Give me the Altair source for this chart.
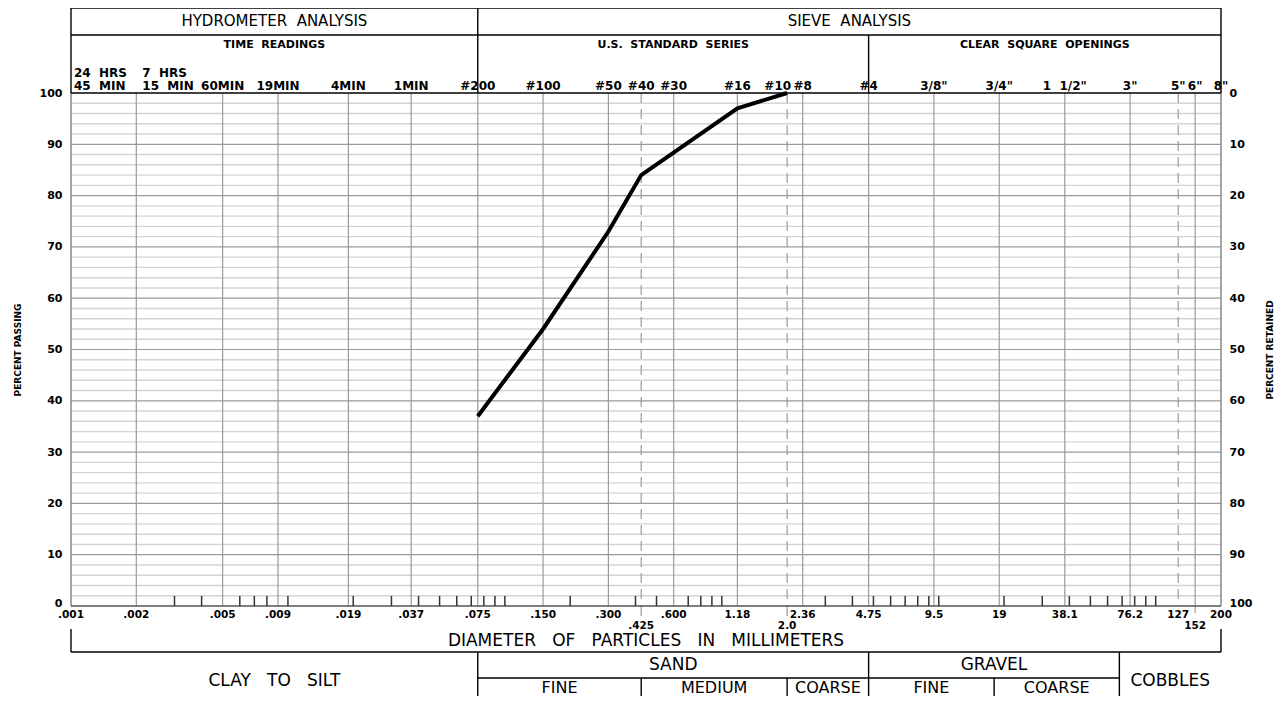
import math
import altair as alt
import pandas as pd

# ---------------- data ----------------
sizes_mm = [0.075, 0.150, 0.300, 0.425, 1.18, 2.0]
percent_passing = [37, 54, 73, 84, 97, 100]

grid_sizes = [0.002, 0.005, 0.009, 0.019, 0.037, 0.075, 0.150, 0.300, 0.600,
              1.18, 2.36, 4.75, 9.5, 19, 38.1, 76.2, 152]
dashed_sizes = [0.425, 2.0, 127]
minor_tick_sizes = [0.003, 0.004, 0.006, 0.007, 0.008, 0.01, 0.02, 0.03, 0.04, 0.05,
                    0.06, 0.07, 0.08, 0.09, 0.1, 0.2, 0.4, 0.5, 0.7, 0.8, 0.9, 1,
                    3, 4, 5, 6, 7, 8, 9, 10, 20, 30, 40, 50, 60, 70, 80, 90, 100]

top_sizes = [0.005, 0.009, 0.019, 0.037, 0.075, 0.150, 0.300, 0.425, 0.600, 1.18,
             2.36, 4.75, 9.5, 19, 38.1, 76.2, 127, 152, 200]
top_labels = ["60MIN", "19MIN", "4MIN", "1MIN", "#200", "#100", "#50", "#40", "#30",
              "#16", "#8", "#4", '3/8"', '3/4"', '1\u00a0\u00a01/2"', '3"', '5"', '6"', '8"']
top_right_sizes = [2.0]
top_right_labels = ["#10"]
hydro_line1 = ["24\u00a0\u00a0HRS", "7\u00a0\u00a0HRS"]
hydro_line2 = ["45\u00a0\u00a0MIN", "15\u00a0\u00a0MIN"]
hydro_sizes = [0.001, 0.002]

bottom_sizes = [0.001, 0.002, 0.005, 0.009, 0.019, 0.037, 0.075, 0.150, 0.300, 0.600,
                1.18, 2.36, 4.75, 9.5, 19, 38.1, 76.2, 127, 200]
bottom_labels = [".001", ".002", ".005", ".009", ".019", ".037", ".075", ".150", ".300",
                 ".600", "1.18", "2.36", "4.75", "9.5", "19", "38.1", "76.2", "127", "200"]
bottom2_sizes = [0.425, 2.0, 152]
bottom2_labels = [".425", "2.0", "152"]

minor_pct = [2, 4, 6, 8, 12, 14, 16, 18, 22, 24, 26, 28, 32, 34, 36, 38, 42, 44, 46, 48,
             52, 54, 56, 58, 62, 64, 66, 68, 72, 74, 76, 78, 82, 84, 86, 88, 92, 94, 96, 98]
major_pct = [10, 20, 30, 40, 50, 60, 70, 80, 90]

# soil classification boundaries (mm)
XMIN, XMAX = 0.001, 200
B_SILT, B_FINE, B_MED, B_SAND, B_GFINE, B_GRAVEL = 0.075, 0.425, 2.0, 4.75, 18, 68

# ---------------- layout ----------------
W, H = 1150, 513
Y0 = 93
FONT = "DejaVu Sans"
S2 = "\u00a0\u00a0"
S3 = "\u00a0\u00a0\u00a0"


def ry(a):
    return a - Y0


def gm(a, b):
    return math.sqrt(a * b)


xscale = alt.Scale(type="log", domain=[XMIN, XMAX], nice=False)
yscale = alt.Scale(domain=[0, 100], nice=False, zero=True)
X = lambda f="x": alt.X(f"{f}:Q", scale=xscale, axis=None)
YP = lambda f="y": alt.Y(f"{f}:Q", scale=None, axis=None)

layers = []

# horizontal grid
layers.append(alt.Chart(pd.DataFrame({"p": minor_pct})).mark_rule(color="#d4d4d4", strokeWidth=1.4).encode(
    y=alt.Y("p:Q", scale=yscale, axis=None), x=alt.value(0), x2=alt.value(W)))
layers.append(alt.Chart(pd.DataFrame({"p": major_pct})).mark_rule(color="#9a9a9a", strokeWidth=1.2).encode(
    y=alt.Y("p:Q", scale=yscale, axis=alt.Axis(
        orient="right", values=list(range(0, 101, 10)), labelExpr="100 - datum.value",
        ticks=False, domain=False, grid=False, labelFont=FONT, labelFontSize=11,
        labelFontWeight="bold", labelColor="black", labelPadding=8,
        labelBaseline={"condition": {"test": "datum.value == 0", "value": "alphabetic"}, "value": "middle"},
        title="PERCENT RETAINED", titleFont=FONT, titleFontSize=9, titleFontWeight="bold",
        titleColor="black", titleAngle=270, titleX=48, titleY=H / 2, titleAlign="center",
        titleBaseline="middle")),
    x=alt.value(0), x2=alt.value(W)))

# vertical grid
layers.append(alt.Chart(pd.DataFrame({"x": grid_sizes})).mark_rule(color="#9a9a9a", strokeWidth=1.2).encode(
    x=X(), y=alt.value(0), y2=alt.value(H)))
layers.append(alt.Chart(pd.DataFrame({"x": dashed_sizes})).mark_rule(
    color="#9a9a9a", strokeWidth=1.2, strokeDash=[10, 6]).encode(x=X(), y=alt.value(0), y2=alt.value(H)))
# leaders below axis
layers.append(alt.Chart(pd.DataFrame({"x": [0.425, 2.0]})).mark_rule(
    color="#9a9a9a", strokeWidth=1.2).encode(x=X(), y=alt.value(H), y2=alt.value(H + 10)))
layers.append(alt.Chart(pd.DataFrame({"x": [152]})).mark_rule(
    color="#9a9a9a", strokeWidth=1.2).encode(x=X(), y=alt.value(H), y2=alt.value(H + 7)))

# plot frame sides and bottom
layers.append(alt.Chart(pd.DataFrame({"x": [XMIN, XMAX]})).mark_rule(color="#808080", strokeWidth=1.4).encode(
    x=X(), y=alt.value(0), y2=alt.value(H)))
layers.append(alt.Chart(pd.DataFrame({"p": [0]})).mark_rule(color="#555555", strokeWidth=1.4).encode(
    y=alt.Y("p:Q", scale=yscale, axis=None), x=alt.value(0), x2=alt.value(W)))

# minor ticks
layers.append(alt.Chart(pd.DataFrame({"x": minor_tick_sizes})).mark_rule(color="#333333", strokeWidth=1.5).encode(
    x=X(), y=alt.value(H - 10), y2=alt.value(H)))

# table segments (header + classification)
ROW2 = 678
segs = [
    (XMIN, XMAX, ry(8), ry(8)),
    (XMIN, XMAX, ry(35), ry(35)),
    (XMIN, XMAX, 0, 0),
    (XMIN, XMIN, ry(8), 0),
    (XMAX, XMAX, ry(8), 0),
    (B_SILT, B_SILT, ry(8), 0),
    (B_SAND, B_SAND, ry(35), 0),
    (XMIN, XMIN, ry(629), ry(652)),
    (XMAX, XMAX, ry(629), ry(652)),
    (XMIN, XMAX, ry(652), ry(652)),
    (B_SILT, B_SILT, ry(652), ry(720)),
    (B_SAND, B_SAND, ry(652), ry(720)),
    (B_GRAVEL, B_GRAVEL, ry(652), ry(720)),
    (B_SILT, B_GRAVEL, ry(ROW2), ry(ROW2)),
    (B_FINE, B_FINE, ry(ROW2), ry(720)),
    (B_MED, B_MED, ry(ROW2), ry(720)),
    (B_GFINE, B_GFINE, ry(ROW2), ry(720)),
]
seg_df = pd.DataFrame(segs, columns=["x", "x2", "y", "y2"])
layers.append(alt.Chart(seg_df).mark_rule(color="black", strokeWidth=1.4).encode(
    x=X(), x2="x2:Q", y=YP(), y2="y2:Q"))

# data line
line_df = pd.DataFrame({"x": sizes_mm, "p": percent_passing})
layers.append(alt.Chart(line_df).mark_line(color="black", strokeWidth=4, strokeJoin="miter").encode(
    x=X(), y=alt.Y("p:Q", scale=yscale, axis=alt.Axis(
        orient="left", values=list(range(0, 101, 10)), ticks=False, domain=False, grid=False,
        labelFont=FONT, labelFontSize=11, labelFontWeight="bold", labelColor="black", labelPadding=9,
        labelBaseline={"condition": {"test": "datum.value == 0", "value": "alphabetic"}, "value": "middle"},
        title="PERCENT PASSING", titleFont=FONT, titleFontSize=9, titleFontWeight="bold",
        titleColor="black", titleAngle=270, titleX=-54, titleY=H / 2, titleAlign="center",
        titleBaseline="middle"))))


def text_layer(xs, ys, texts, size, weight="normal", align="center", dx=0, baseline="middle"):
    df = pd.DataFrame({"x": xs, "y": ys, "t": texts})
    return alt.Chart(df).mark_text(font=FONT, fontSize=size, fontWeight=weight, align=align,
                                   baseline=baseline, dx=dx, color="black").encode(
        x=X(), y=YP(), text="t:N")


layers.append(text_layer([gm(XMIN, B_SILT), gm(B_SILT, XMAX)], [ry(21)] * 2,
                         ["HYDROMETER" + S2 + "ANALYSIS", "SIEVE" + S2 + "ANALYSIS"], 15))
layers.append(text_layer([gm(XMIN, B_SILT), gm(B_SILT, B_SAND), gm(B_SAND, XMAX)], [ry(45)] * 3,
                         ["TIME" + S2 + "READINGS", "U.S." + S2 + "STANDARD" + S2 + "SERIES",
                          "CLEAR" + S2 + "SQUARE" + S2 + "OPENINGS"], 11, "bold"))
layers.append(text_layer(top_sizes, [ry(86)] * len(top_sizes), top_labels, 12, "bold"))
layers.append(text_layer(top_right_sizes, [ry(86)], top_right_labels, 12, "bold", "right", 4))
layers.append(text_layer([hydro_sizes[0]] * 2, [ry(73), ry(86)], [hydro_line1[0], hydro_line2[0]], 12, "bold", "left", 3))
layers.append(text_layer([hydro_sizes[1]] * 2, [ry(73), ry(86)], [hydro_line1[1], hydro_line2[1]], 12, "bold", "left", 6))
layers.append(text_layer(bottom_sizes, [ry(615)] * len(bottom_sizes), bottom_labels, 10.5, "bold"))
layers.append(text_layer(bottom2_sizes, [ry(626)] * len(bottom2_sizes), bottom2_labels, 10.5, "bold"))
layers.append(text_layer([gm(XMIN, XMAX)], [ry(641)],
                         ["DIAMETER" + S3 + "OF" + S3 + "PARTICLES" + S3 + "IN" + S3 + "MILLIMETERS"], 17))
layers.append(text_layer([gm(XMIN, B_SILT), gm(B_SILT, B_SAND), gm(B_SAND, B_GRAVEL), gm(B_GRAVEL, XMAX)],
                         [ry(681), ry(665), ry(665), ry(681)],
                         ["CLAY" + S3 + "TO" + S3 + "SILT", "SAND", "GRAVEL", "COBBLES"], 17))
layers.append(text_layer([gm(B_SILT, B_FINE), gm(B_FINE, B_MED), gm(B_MED, B_SAND),
                          gm(B_SAND, B_GFINE), gm(B_GFINE, B_GRAVEL)],
                         [ry(693)] * 5, ["FINE", "MEDIUM", "COARSE", "FINE", "COARSE"], 16,
                         baseline="alphabetic"))

chart = alt.layer(*layers).resolve_axis(y="independent").properties(
    width=W, height=H,
    autosize=alt.AutoSizeParams(type="none"),
    padding={"left": 63, "top": 85, "right": 55, "bottom": 90},
).configure_view(stroke=None)

chart.save("out.html", embed_options={"renderer": "svg", "actions": False})
